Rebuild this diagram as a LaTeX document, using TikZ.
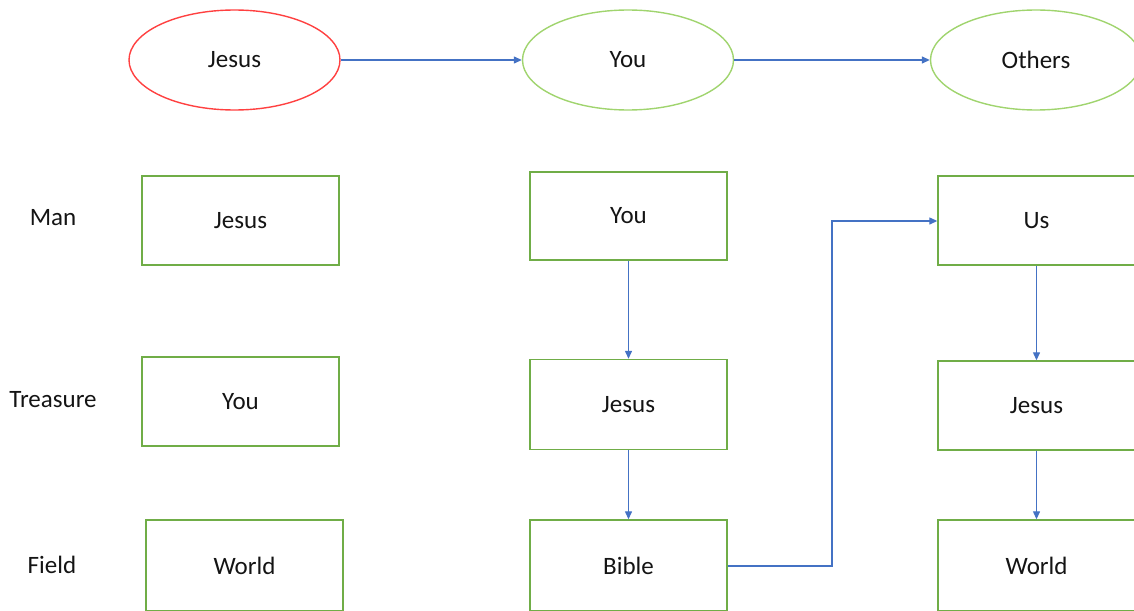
\documentclass[tikz,border=0pt]{standalone}
\usepackage{fontspec}
\setmainfont{Carlito}
\usetikzlibrary{shapes.geometric,arrows.meta}
\definecolor{redline}{RGB}{255,64,64}
\definecolor{lightgreen}{RGB}{160,212,110}
\definecolor{boxgreen}{RGB}{112,173,71}
\definecolor{arrowblue}{RGB}{68,114,196}
\definecolor{txt}{RGB}{20,20,20}
\tikzset{
  every node/.style={font=\fontsize{25}{29}\selectfont, text=txt, inner sep=0pt},
  oval/.style={ellipse, draw=lightgreen, line width=1.4pt, minimum width=211pt, minimum height=100pt},
  redoval/.style={oval, draw=redline},
  gbox/.style={rectangle, draw=boxgreen, line width=1.4pt, minimum width=197pt, minimum height=89pt},
  lowbox/.style={gbox, minimum height=91pt},
  conn/.style={draw=arrowblue, line width=1.3pt, -{Triangle[length=8pt,width=7pt]}},
  rowlabel/.style={}
}
\begin{document}
\begin{tikzpicture}[x=1pt,y=-1pt]
\useasboundingbox (0,0) rectangle (1134,610);
\clip (0,0) rectangle (1134,610);
% ellipses
\node[redoval] (eJ) at (234.5,60) {Jesus};
\node[oval] (eY) at (628,60) {You};
\node[oval] (eO) at (1036,60) {Others};
% row labels
\node[rowlabel] (lMan) at (53,218) {Man};
\node[rowlabel] (lTre) at (53,400) {Treasure};
\node[rowlabel] (lFie) at (52,565) {Field};
% column 1
\node[gbox] (a1) at (240.5,220.5) {Jesus};
\node[gbox] (a2) at (240.5,401.5) {You};
\node[lowbox] (a3) at (244.5,565.5) {World};
% column 2
\node[gbox, minimum height=88pt] (b1) at (628.5,216) {You};
\node[gbox, minimum height=90pt] (b2) at (628.5,404.5) {Jesus};
\node[lowbox] (b3) at (628.5,565.5) {Bible};
% column 3
\node[gbox] (c1) at (1036.5,220.5) {Us};
\node[gbox] (c2) at (1036.5,405.5) {Jesus};
\node[lowbox] (c3) at (1036.5,565.5) {World};
% connectors
\draw[conn] (eJ.east) -- (eY.west);
\draw[conn] (eY.east) -- (eO.west);
\draw[conn] (b1.south) -- (b2.north);
\draw[conn] (b2.south) -- (b3.north);
\draw[conn] (c1.south) -- (c2.north);
\draw[conn] (c2.south) -- (c3.north);
\coordinate (k1) at (832,566);
\coordinate (k2) at (832,221);
\draw[conn] (b3.east |- k1) -- (k1) -- (k2) -- (c1.west |- k2);
\end{tikzpicture}
\end{document}
